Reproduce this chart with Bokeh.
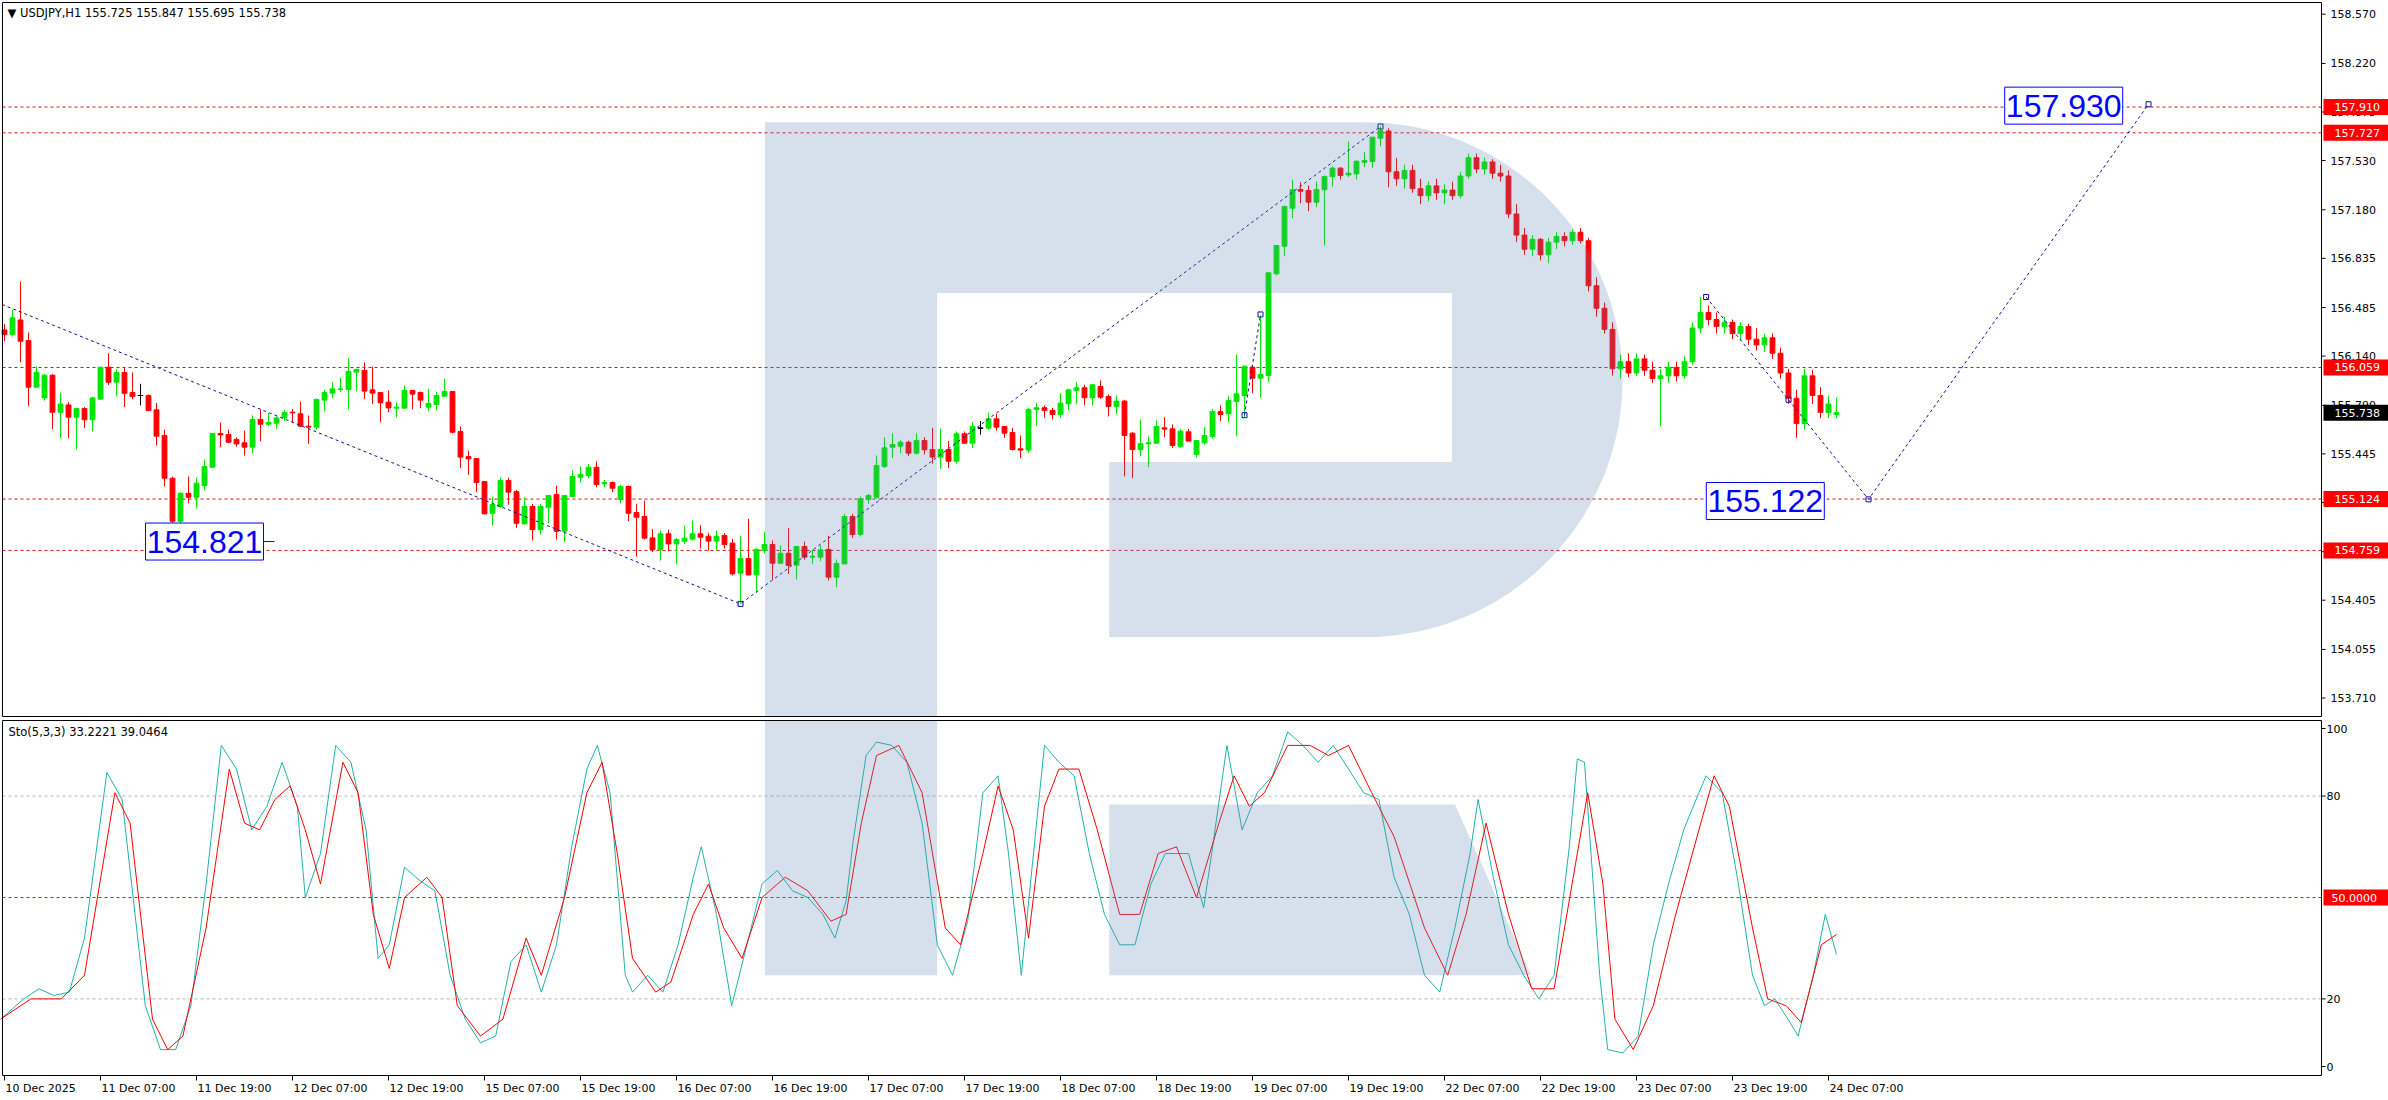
import numpy as np
from bokeh.plotting import figure
from bokeh.layouts import column
from bokeh.models import Range1d, ColumnDataSource
from bokeh.core.properties import value
from bokeh.embed import file_html
from bokeh.resources import INLINE

# ---------------- data ----------------
header_main = "\u25BC USDJPY,H1  155.725 155.847 155.695 155.738"
header_sto = "Sto(5,3,3) 33.2221 39.0464"

date_tick_bars = [0, 12, 24, 36, 48, 60, 72, 84, 96, 108, 120, 132, 144, 156, 168, 180, 192, 204, 216, 228]
date_tick_labels = ["10 Dec 2025", "11 Dec 07:00", "11 Dec 19:00", "12 Dec 07:00", "12 Dec 19:00",
                    "15 Dec 07:00", "15 Dec 19:00", "16 Dec 07:00", "16 Dec 19:00", "17 Dec 07:00",
                    "17 Dec 19:00", "18 Dec 07:00", "18 Dec 19:00", "19 Dec 07:00", "19 Dec 19:00",
                    "22 Dec 07:00", "22 Dec 19:00", "23 Dec 07:00", "23 Dec 19:00", "24 Dec 07:00"]

price_ticks = [158.570, 158.220, 157.875, 157.530, 157.180, 156.835, 156.485, 156.140, 155.790,
               155.445, 155.100, 154.750, 154.405, 154.055, 153.710]
level_prices = [157.910, 157.727, 156.059, 155.124, 154.759]
last_price = 155.738
sto_ticks = [0, 20, 80, 100]
sto_levels_grey = [20, 80]
sto_level_red = 50

candle_open = [
 156.326,156.293,156.397,156.250,155.919,155.843,156.004,155.741,155.793,155.706,
 155.767,155.687,155.834,156.061,155.954,156.023,155.881,155.860,155.860,155.758,
 155.575,155.272,154.966,155.165,155.137,155.220,155.350,155.590,155.582,155.547,
 155.524,155.493,155.689,155.656,155.663,155.701,155.742,155.730,155.642,155.635,
 155.827,155.877,155.903,155.903,156.026,156.038,155.900,155.881,155.813,155.770,
 155.770,155.896,155.881,155.777,155.796,155.855,155.888,155.604,155.426,155.412,
 155.248,155.023,155.071,155.256,155.177,154.948,155.071,154.907,155.066,155.156,
 154.895,155.142,155.279,155.291,155.350,155.232,155.241,155.121,155.213,155.028,
 155.000,154.848,154.765,154.877,154.805,154.824,154.839,154.877,154.860,154.825,
 154.865,154.811,154.597,154.701,154.585,154.758,154.801,154.668,154.739,154.654,
 154.787,154.711,154.711,154.766,154.569,154.663,155.000,154.872,155.121,155.137,
 155.355,155.493,155.500,155.528,155.450,155.540,155.476,155.422,155.476,155.393,
 155.588,155.521,155.628,155.628,155.694,155.640,155.597,155.481,155.472,155.761,
 155.773,155.754,155.725,155.801,155.896,155.915,155.844,155.924,155.853,155.782,
 155.820,155.592,155.476,155.517,155.521,155.630,155.623,155.498,155.602,155.441,
 155.524,155.569,155.746,155.730,155.817,155.860,156.061,155.983,156.002,156.725,
 156.921,157.191,157.324,157.317,157.234,157.322,157.416,157.476,157.428,157.435,
 157.518,157.523,157.689,157.740,157.450,157.400,157.460,157.330,157.280,157.350,
 157.300,157.320,157.280,157.420,157.550,157.470,157.520,157.440,157.420,157.150,
 157.000,156.900,156.970,156.860,156.950,156.990,156.960,157.020,156.960,156.640,
 156.480,156.330,156.050,156.100,156.020,156.120,156.040,155.980,156.000,156.060,
 156.000,156.100,156.340,156.450,156.400,156.350,156.380,156.300,156.350,156.260,
 156.220,156.270,156.160,156.020,155.840,155.660,156.000,155.860,155.740,155.725]
candle_high = [
 156.369,156.468,156.670,156.307,156.068,156.014,156.014,155.879,155.812,155.767,
 155.777,155.852,156.061,156.160,156.047,156.063,156.023,155.943,155.867,155.807,
 155.616,155.284,155.173,155.284,155.279,155.405,155.590,155.668,155.616,155.563,
 155.611,155.718,155.761,155.734,155.711,155.758,155.763,155.817,155.718,155.839,
 155.900,155.957,155.988,156.123,156.050,156.095,156.066,155.884,155.896,155.813,
 155.931,155.900,155.888,155.907,155.888,155.978,155.888,155.640,155.469,155.412,
 155.248,155.142,155.279,155.275,155.189,155.137,155.090,155.090,155.149,155.218,
 155.149,155.327,155.355,155.374,155.391,155.260,155.248,155.225,155.220,155.090,
 155.113,154.912,154.900,154.907,154.848,154.936,154.971,154.936,154.882,154.900,
 154.882,154.841,154.860,154.983,154.775,154.889,154.829,154.794,154.917,154.787,
 154.822,154.763,154.794,154.863,154.694,155.019,155.019,155.142,155.161,155.434,
 155.564,155.592,155.545,155.540,155.592,155.564,155.630,155.623,155.536,155.604,
 155.604,155.671,155.678,155.737,155.730,155.640,155.630,155.576,155.773,155.806,
 155.789,155.773,155.877,155.908,155.955,155.936,155.943,155.967,155.867,155.860,
 155.829,155.600,155.690,155.569,155.682,155.706,155.654,155.623,155.623,155.545,
 155.635,155.765,155.789,155.855,156.149,156.068,156.073,156.429,156.732,156.931,
 157.210,157.393,157.376,157.353,157.381,157.424,157.488,157.483,157.665,157.530,
 157.590,157.696,157.772,157.760,157.550,157.500,157.500,157.400,157.380,157.400,
 157.360,157.380,157.450,157.580,157.580,157.550,157.540,157.500,157.460,157.220,
 157.050,157.000,156.980,156.980,157.020,157.020,157.040,157.050,156.980,156.700,
 156.520,156.380,156.150,156.160,156.160,156.150,156.100,156.050,156.100,156.100,
 156.140,156.380,156.560,156.500,156.450,156.420,156.400,156.380,156.370,156.340,
 156.300,156.300,156.200,156.050,155.900,156.050,156.040,155.920,155.860,155.847]
candle_low = [
 156.246,156.279,156.097,155.784,155.919,155.824,155.620,155.556,155.556,155.478,
 155.630,155.606,155.834,155.935,155.855,155.777,155.834,155.789,155.748,155.504,
 155.213,154.821,154.936,155.094,155.059,155.184,155.350,155.492,155.521,155.497,
 155.434,155.450,155.535,155.642,155.623,155.678,155.670,155.635,155.517,155.616,
 155.749,155.841,155.884,155.763,155.891,155.834,155.801,155.670,155.742,155.706,
 155.770,155.761,155.770,155.749,155.753,155.855,155.592,155.346,155.296,155.173,
 155.014,154.936,155.061,155.085,154.919,154.943,154.829,154.872,154.952,154.836,
 154.817,155.137,155.241,155.272,155.208,155.208,155.173,155.094,154.967,154.715,
 154.836,154.746,154.687,154.753,154.659,154.805,154.829,154.773,154.758,154.758,
 154.773,154.581,154.379,154.581,154.455,154.739,154.550,154.663,154.592,154.552,
 154.692,154.663,154.682,154.545,154.498,154.663,154.848,154.858,155.090,155.126,
 155.346,155.415,155.450,155.429,155.441,155.441,155.375,155.339,155.346,155.375,
 155.517,155.486,155.581,155.616,155.611,155.559,155.469,155.415,155.453,155.647,
 155.701,155.690,155.699,155.754,155.801,155.789,155.789,155.836,155.711,155.725,
 155.284,155.273,155.427,155.351,155.517,155.564,155.488,155.488,155.536,155.422,
 155.510,155.552,155.677,155.670,155.571,155.706,155.877,155.843,155.955,156.713,
 156.850,157.120,157.227,157.170,157.199,156.926,157.345,157.395,157.412,157.395,
 157.483,157.478,157.632,157.340,157.350,157.330,157.300,157.220,157.240,157.250,
 157.220,157.250,157.260,157.400,157.440,157.430,157.400,157.380,157.120,156.950,
 156.860,156.850,156.820,156.800,156.900,156.920,156.930,156.940,156.600,156.420,
 156.300,156.000,155.980,155.990,156.000,156.000,155.950,155.640,155.950,155.960,
 155.980,156.080,156.300,156.360,156.300,156.300,156.260,156.250,156.220,156.180,
 156.170,156.120,155.980,155.800,155.560,155.620,155.800,155.700,155.700,155.695]
candle_close = [
 156.293,156.412,156.246,155.919,156.025,156.004,155.741,155.800,155.706,155.767,
 155.687,155.843,156.061,155.954,156.023,155.876,155.852,155.860,155.753,155.571,
 155.272,154.966,155.165,155.137,155.237,155.355,155.590,155.580,155.528,155.516,
 155.493,155.689,155.656,155.668,155.701,155.739,155.737,155.642,155.635,155.832,
 155.881,155.907,155.907,156.031,156.045,155.891,155.877,155.808,155.772,155.777,
 155.896,155.870,155.827,155.803,155.860,155.888,155.599,155.422,155.410,155.241,
 155.019,155.085,155.256,155.173,154.952,155.071,154.907,155.071,155.149,154.895,
 155.149,155.284,155.298,155.350,155.227,155.241,155.201,155.213,155.023,154.995,
 154.846,154.765,154.877,154.805,154.836,154.846,154.877,154.853,154.825,154.860,
 154.801,154.592,154.701,154.585,154.766,154.801,154.668,154.739,154.652,154.787,
 154.711,154.718,154.763,154.569,154.666,155.000,154.872,155.126,155.149,155.363,
 155.488,155.512,155.528,155.450,155.540,155.474,155.422,155.476,155.393,155.588,
 155.521,155.640,155.628,155.694,155.635,155.592,155.476,155.472,155.761,155.773,
 155.754,155.725,155.806,155.900,155.915,155.844,155.936,155.848,155.782,155.820,
 155.576,155.476,155.517,155.524,155.640,155.621,155.505,155.607,155.536,155.540,
 155.576,155.746,155.725,155.825,155.872,156.068,155.983,156.009,156.732,156.926,
 157.203,157.322,157.312,157.234,157.324,157.416,157.476,157.424,157.440,157.525,
 157.530,157.696,157.743,157.450,157.400,157.460,157.330,157.280,157.350,157.300,
 157.320,157.280,157.420,157.550,157.470,157.520,157.440,157.420,157.150,157.000,
 156.900,156.970,156.860,156.950,156.990,156.960,157.020,156.960,156.640,156.480,
 156.330,156.050,156.100,156.020,156.120,156.040,155.980,156.000,156.060,156.000,
 156.100,156.340,156.450,156.400,156.350,156.380,156.300,156.350,156.260,156.220,
 156.270,156.160,156.020,155.840,155.660,156.000,155.860,155.740,155.800,155.738]

# stochastic %K (teal) and %D (red), read at their turning bars
sto_k_bar = [-0.5,2.4,4.3,6.2,8.1,10,12.8,14.7,17.6,19.5,21.4,23.3,25.2,27.1,29,30.9,32.8,34.7,36.6,37.6,
             39.5,41.4,43.3,45.2,46.7,48.1,50,51.9,53.8,55.7,57.6,59.5,61.4,63.3,65.2,67.1,69,70.9,72.8,74.1,
             75.7,77.6,78.5,80.4,82.3,84.2,86.1,87.1,89,90.9,92.8,94.7,96.6,98.5,100.4,102.3,103.8,105.2,106.1,107.7,
             109,110.9,112.8,114.7,116.6,118.5,120.4,122.3,124.2,125.5,127.1,129,130,131.8,133.7,135.6,137.5,139.4,141.3,143.3,
             145.1,148,149.9,150.9,152.8,154.7,156.6,158.5,160.4,162.3,164.2,166.1,168,169.9,171.8,173.7,175.6,177.5,179.4,181.3,
             183.2,184.2,186.1,188,189.9,191.8,193.7,195.6,196.6,197.5,199.4,200.4,202.3,204.2,206.1,208,209.9,211.8,212.7,214.7,
             216.6,218.5,220,221.3,223.2,224.2,226.1,227.6,229]
sto_k_val = [14,20,23,21,22,38,87,79,18,5,5,18,54,95,88,70,77,90,77,50,
             63,95,90,70,32,36,59,55,52,27,14,7,9,31,36,22,36,65,88,95,
             81,27,22,27,22,36,56,65,45,18,36,54,58,52,50,45,38,49,67,92,
             96,95,90,72,36,27,43,81,86,63,27,72,95,90,86,63,45,36,36,54,
             63,63,47,63,95,70,81,86,99,95,90,95,88,81,79,56,45,27,22,41,
             63,79,56,36,27,20,27,65,91,90,27,5,4,9,36,54,70,81,86,81,
             56,27,18,20,13,9,27,45,33.2]
sto_d_bar = [-0.5,3.3,7.1,10,13.8,15.7,18.5,20.4,22.3,25.2,28.1,30,31.9,33.8,35.7,37.6,39.5,42.3,44.2,46.1,
             48.1,50,52.8,54.7,56.6,59.5,62.3,65.2,67.1,70,72.8,74.7,76.6,78.5,81.4,83.3,86.1,88,89.9,92.2,
             94.7,97.6,100.4,103.3,105.2,107.1,109,111.8,114.7,117.6,119.5,122.3,124.2,126.1,128,130,131.8,134.3,136.6,139.4,
             141.9,144.2,146.5,149,151.8,153.7,155.6,157.5,160.4,163.2,165.5,168,170.9,173.7,177.5,180.4,182.7,185.2,188,190.9,
             193.7,196.6,197.9,199.8,201.3,203.6,206.1,208.9,211.8,213.7,215.6,218.5,220.4,222.7,224.6,227.1,229]
sto_d_val = [14,20,20,27,81,72,14,5,9,41,88,72,70,79,83,70,54,90,81,45,
             29,50,56,50,18,9,14,38,27,50,81,90,63,32,22,25,45,54,41,32,
             50,56,52,43,45,72,92,95,81,41,36,63,83,70,38,77,88,88,70,45,
             45,63,65,50,72,86,77,81,95,95,92,95,81,68,41,27,45,72,45,23,
             23,63,81,54,14,5,18,45,70,86,77,41,20,18,13,36,39.05]

# drawn zigzag / forecast lines: (bar, price)
zigzag_bar = [-1, 92, 172]
zigzag_price = [156.523, 154.379, 157.772]
wave_bar = [155, 157]
wave_price = [155.72, 156.436]
forecast_bar = [212.7, 223, 233, 268]
forecast_price = [156.56, 155.83, 155.122, 157.93]
tag_text = ["154.821", "155.122", "157.930"]
tag_bar = [25.0, 220.1, 257.4]
tag_price = [154.822, 155.11, 157.92]

# ---------------- geometry helpers (pixel -> data) ----------------
def mx(rx):
    return (rx - 4) / 8.0

def my(ry):
    return 158.57 - (ry - 13.7) / 140.7

def sy(ry):
    return (1066 - ry) / 3.38

W = 2388
SPLIT = 718
H_MAIN = SPLIT
H_STO = 1100 - SPLIT
FONT = value("DejaVu Sans")
BULL = "#00e600"
BEAR = "#ff0000"
DOJI = "#000000"
BLUE_LINE = "#10109a"
LEVEL_RED = "#e01010"
WM_COL, WM_A = "#5b83b3", 0.25

xr = Range1d(mx(0), mx(W))
PX = 1 / 8.0            # one pixel in bars
PPY = 1 / 140.7         # one pixel in price
SPY = 1 / 3.38          # one pixel in stochastic units

FL, FR = mx(2), mx(2321)          # panel frame left/right (bars)


def make_fig(height, yr):
    f = figure(width=W, height=height, x_range=xr, y_range=yr, x_axis_type=None, y_axis_type=None,
               toolbar_location=None, output_backend="svg", min_border=0,
               min_border_left=0, min_border_right=0, min_border_top=0, min_border_bottom=0)
    f.outline_line_color = None
    f.background_fill_color = "white"
    f.border_fill_color = "white"
    return f


def txt(f, xs, ys, ss, size="11px", color="black", align="left", baseline="middle", font=FONT, x_off=0):
    f.text(x=list(xs), y=list(ys), text=list(ss), text_font=font, text_font_size=size, text_color=color,
           text_align=align, text_baseline=baseline, x_offset=x_off)

# ---------------- main price panel ----------------
main = make_fig(H_MAIN, Range1d(my(SPLIT), my(0)))
PT, PB = my(2), my(716)

n = len(candle_close)
bars = list(range(n))
o = np.array(candle_open); c = np.array(candle_close)
h = np.array(candle_high); l = np.array(candle_low)
col = [DOJI if abs(cc - oo) < 1e-9 else (BULL if cc > oo else BEAR) for oo, cc in zip(o, c)]
src = ColumnDataSource(dict(x=bars, o=o, c=c, h=h, l=l, top=np.maximum(o, c), bot=np.minimum(o, c), col=col))

main.segment(x0=[FL] * len(level_prices), x1=[FR] * len(level_prices), y0=level_prices, y1=level_prices,
             line_color=LEVEL_RED, line_dash="3 3", line_width=1)

main.segment(x0="x", y0="l", x1="x", y1="h", source=src, line_color="col", line_width=1)
main.vbar(x="x", width=0.6, top="top", bottom="bot", source=src, fill_color="col", line_color="col", line_width=1)
dj = [i for i in bars if col[i] == DOJI]
main.segment(x0=[i - 0.35 for i in dj], x1=[i + 0.35 for i in dj], y0=[c[i] for i in dj], y1=[c[i] for i in dj],
             line_color=DOJI, line_width=1)

for xs, ys in ((zigzag_bar, zigzag_price), (wave_bar, wave_price), (forecast_bar, forecast_price)):
    main.line(xs, ys, line_color=BLUE_LINE, line_dash="3 3", line_width=1)
    main.scatter(xs, ys, marker="square", size=5, fill_color=None, line_color=BLUE_LINE, line_width=1)

# watermark (semi-transparent overlay), pixel geometry
acx, acy, ar = 1364.6, 379.2, 257.4
th = np.linspace(np.pi / 2, -np.pi / 2, 80)
arc_px = [(acx + ar * np.cos(t), acy - ar * np.sin(t)) for t in th]
wm_px = [(764.5, 716), (764.5, 121.8)] + arc_px + [(1108.7, 636.6), (1108.7, 461.5), (1451.4, 461.5),
                                                 (1451.4, 292.4), (936.6, 292.4), (936.6, 716)]
main.patch([mx(a) for a, b in wm_px], [my(b) for a, b in wm_px], fill_color=WM_COL, fill_alpha=WM_A, line_color=None)

# forecast value tags
for t, bx, by in zip(tag_text, tag_bar, tag_price):
    main.quad(left=bx - 59 * PX, right=bx + 59 * PX, bottom=by - 18.5 * PPY, top=by + 18.5 * PPY,
              fill_color="white", line_color="#0000ff", line_width=1)
txt(main, tag_bar, tag_price, tag_text, size="32px", color="#0000ff", align="center", font=value("Liberation Sans"))
main.segment(x0=[tag_bar[0] + 59 * PX], x1=[tag_bar[0] + 70 * PX], y0=[tag_price[0]], y1=[tag_price[0]],
             line_color=BLUE_LINE, line_width=1)

# frame + price axis
main.quad(left=FL, right=FR, bottom=PB, top=PT, fill_color=None, line_color="black", line_width=1)
main.segment(x0=[FR] * len(price_ticks), x1=[FR + 4 * PX] * len(price_ticks), y0=price_ticks, y1=price_ticks,
             line_color="black")
txt(main, [FR + 9 * PX] * len(price_ticks), price_ticks, [f"{v:.3f}" for v in price_ticks])

tag_levels = level_prices + [last_price]
tag_cols = ["#ff0000"] * len(level_prices) + ["#000000"]
main.quad(left=[FR + 2 * PX] * len(tag_levels), right=[mx(W)] * len(tag_levels),
          bottom=[v - 8 * PPY for v in tag_levels], top=[v + 8 * PPY for v in tag_levels],
          fill_color=tag_cols, line_color=None)
txt(main, [FR + 13 * PX] * len(tag_levels), tag_levels, [f"{v:.3f}" for v in tag_levels], color="white")

txt(main, [mx(7)], [my(12)], [header_main], size="11.5px")

# ---------------- stochastic panel ----------------
sto = make_fig(H_STO, Range1d(sy(1100), sy(SPLIT)))
ST, SB = sy(720), sy(1075)

sto.segment(x0=[FL, FL], x1=[FR, FR], y0=sto_levels_grey, y1=sto_levels_grey,
            line_color="#b8b8b8", line_dash="3 3", line_width=1)
sto.segment(x0=[FL], x1=[FR], y0=[sto_level_red], y1=[sto_level_red], line_color=LEVEL_RED, line_dash="3 3", line_width=1)

sto.line(sto_k_bar, sto_k_val, line_color="#20b2aa", line_width=1)
sto.line(sto_d_bar, sto_d_val, line_color="#ff0000", line_width=1)

bar_px = [(764.5, 720), (936.6, 720), (936.6, 974.7), (764.5, 974.7)]
leg_px = [(1108.7, 804.1), (1454.5, 804.1), (1530.6, 974.7), (1108.7, 974.7)]
for poly in (bar_px, leg_px):
    sto.patch([mx(a) for a, b in poly], [sy(b) for a, b in poly], fill_color=WM_COL, fill_alpha=WM_A, line_color=None)

sto.quad(left=FL, right=FR, bottom=SB, top=ST, fill_color=None, line_color="black", line_width=1)
sto.segment(x0=[FR] * len(sto_ticks), x1=[FR + 4 * PX] * len(sto_ticks), y0=sto_ticks, y1=sto_ticks, line_color="black")
txt(sto, [FR + 5 * PX] * len(sto_ticks), sto_ticks, [str(v) for v in sto_ticks])
sto.quad(left=[FR + 2 * PX], right=[mx(W)], bottom=[sto_level_red - 8 * SPY], top=[sto_level_red + 8 * SPY],
         fill_color="#ff0000", line_color=None)
txt(sto, [FR + 10 * PX], [sto_level_red], [f"{sto_level_red:.4f}"], color="white")

sto.segment(x0=date_tick_bars, x1=date_tick_bars, y0=[SB] * len(date_tick_bars),
            y1=[SB - 5 * SPY] * len(date_tick_bars), line_color="black")
txt(sto, date_tick_bars, [sy(1081)] * len(date_tick_bars), date_tick_labels, baseline="top", x_off=1)

txt(sto, [mx(8)], [sy(731)], [header_sto], size="11.5px")

layout = column(main, sto, spacing=0)
open("out.html", "w").write(file_html(layout, INLINE))
